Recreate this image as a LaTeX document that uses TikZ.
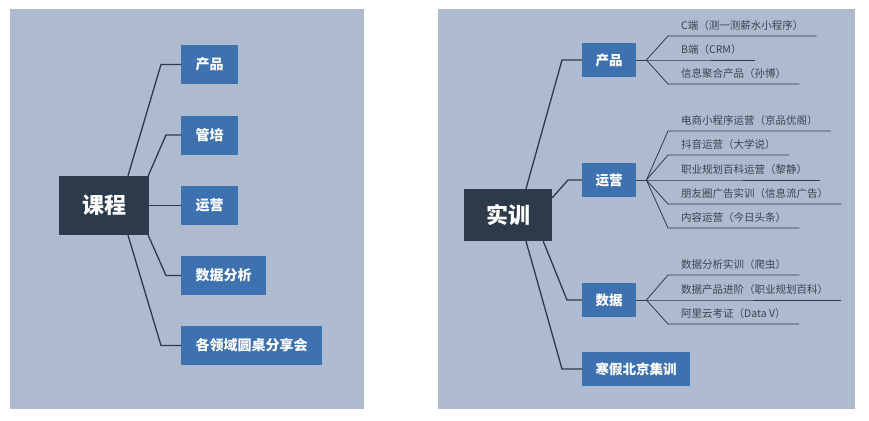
\documentclass[tikz,border=0pt]{standalone}
\usepackage{fontspec}
\setmainfont{Noto Sans CJK SC}
\definecolor{panel}{HTML}{AEBBCF}
\definecolor{boxblue}{HTML}{3E71AF}
\definecolor{rootdark}{HTML}{2D3A4B}
\definecolor{leaftext}{HTML}{3A4250}
\begin{document}
\begin{tikzpicture}[x=1pt,y=-1pt,
	root/.style={fill=rootdark,text=white,font=\fontsize{22}{24}\selectfont\bfseries,inner sep=0pt},
	topic/.style={fill=boxblue,text=white,font=\fontsize{14}{16}\selectfont\bfseries,anchor=west,minimum height=39pt,inner xsep=14.5pt},
	subtopic/.style={topic,font=\fontsize{13.5}{15}\selectfont\bfseries,minimum height=34pt,inner xsep=13.5pt},
	leaf/.style={text=leaftext,font=\fontsize{10.5}{12}\selectfont,anchor=south west,inner xsep=13pt,inner ysep=4pt,text height=8pt,text depth=2pt},
	link/.style={draw=rootdark,line width=1.3pt},
	twig/.style={draw=rootdark,line width=0.8pt}]
	\useasboundingbox (0,0) rectangle (869,420);
	\fill[white] (0,0) rectangle (869,420);
	\fill[panel] (10,9) rectangle (364,409);
	\fill[panel] (438,9) rectangle (855,409);
	\node[root,minimum width=90pt,minimum height=59pt] (kc) at (104,205.5) {课程};
	\node[topic] (kc1) at (181,64.5) {产品};
	\node[topic] (kc2) at (181,135) {管培};
	\node[topic] (kc3) at (181,205.5) {运营};
	\node[topic] (kc4) at (181,275.5) {数据分析};
	\node[topic] (kc5) at (181,345.5) {各领域圆桌分享会};
	\draw[link] (kc1.west) -- ++(-20,0) -- ([xshift=24pt]kc.north);
	\draw[link] (kc2.west) -- ++(-15,0) -- ([xshift=-1pt]kc.north east);
	\draw[link] (kc3.west) -- (kc.east);
	\draw[link] (kc4.west) -- ++(-15,0) -- ([xshift=-1pt]kc.south east);
	\draw[link] (kc5.west) -- ++(-20,0) -- ([xshift=24pt]kc.south);
	\node[root,minimum width=88pt,minimum height=52pt] (sx) at (508,215) {实训};
	\node[subtopic] (sx1) at (582,60) {产品};
	\node[subtopic] (sx2) at (582,180) {运营};
	\node[subtopic] (sx3) at (582,300) {数据};
	\node[subtopic] (sx4) at (582,369) {寒假北京集训};
	\draw[link] (sx1.west) -- ++(-20,0) -- ([xshift=18pt]sx.north);
	\draw[link] (sx2.west) -- ++(-14,0) -- ([yshift=-9pt]sx.north east);
	\draw[link] (sx3.west) -- ++(-15,0) -- ([xshift=-9pt]sx.south east);
	\draw[link] (sx4.west) -- ++(-20,0) -- ([xshift=18pt]sx.south);
	\coordinate (f1) at ([xshift=10pt]sx1.east);
	\coordinate (f2) at ([xshift=10pt]sx2.east);
	\coordinate (f3) at ([xshift=10pt]sx3.east);
	\draw[twig] (sx1.east) -- (f1);
	\draw[twig] (sx2.east) -- (f2);
	\draw[twig] (sx3.east) -- (f3);
	\node[leaf] (p1) at (668,36) {C端（测一测薪水小程序）};
	\node[leaf] (p2) at (668,60) {B端（CRM）};
	\node[leaf] (p3) at (668,84) {信息聚合产品（孙博）};
	\node[leaf] (y1) at (668,131) {电商小程序运营（京品优阁）};
	\node[leaf] (y2) at (668,155) {抖音运营（大学说）};
	\node[leaf] (y3) at (668,180) {职业规划百科运营（黎静）};
	\node[leaf] (y4) at (668,204) {朋友圈广告实训（信息流广告）};
	\node[leaf] (y5) at (668,228) {内容运营（今日头条）};
	\node[leaf] (d1) at (668,275) {数据分析实训（爬虫）};
	\node[leaf] (d2) at (668,300) {数据产品进阶（职业规划百科）};
	\node[leaf] (d3) at (668,324) {阿里云考证（Data V）};
	\foreach \n in {p1,p2,p3}
		\draw[twig] (f1) -- (\n.south west) -- (\n.south east);
	\foreach \n in {y1,y2,y3,y4,y5}
		\draw[twig] (f2) -- (\n.south west) -- (\n.south east);
	\foreach \n in {d1,d2,d3}
		\draw[twig] (f3) -- (\n.south west) -- (\n.south east);
\end{tikzpicture}
\end{document}
